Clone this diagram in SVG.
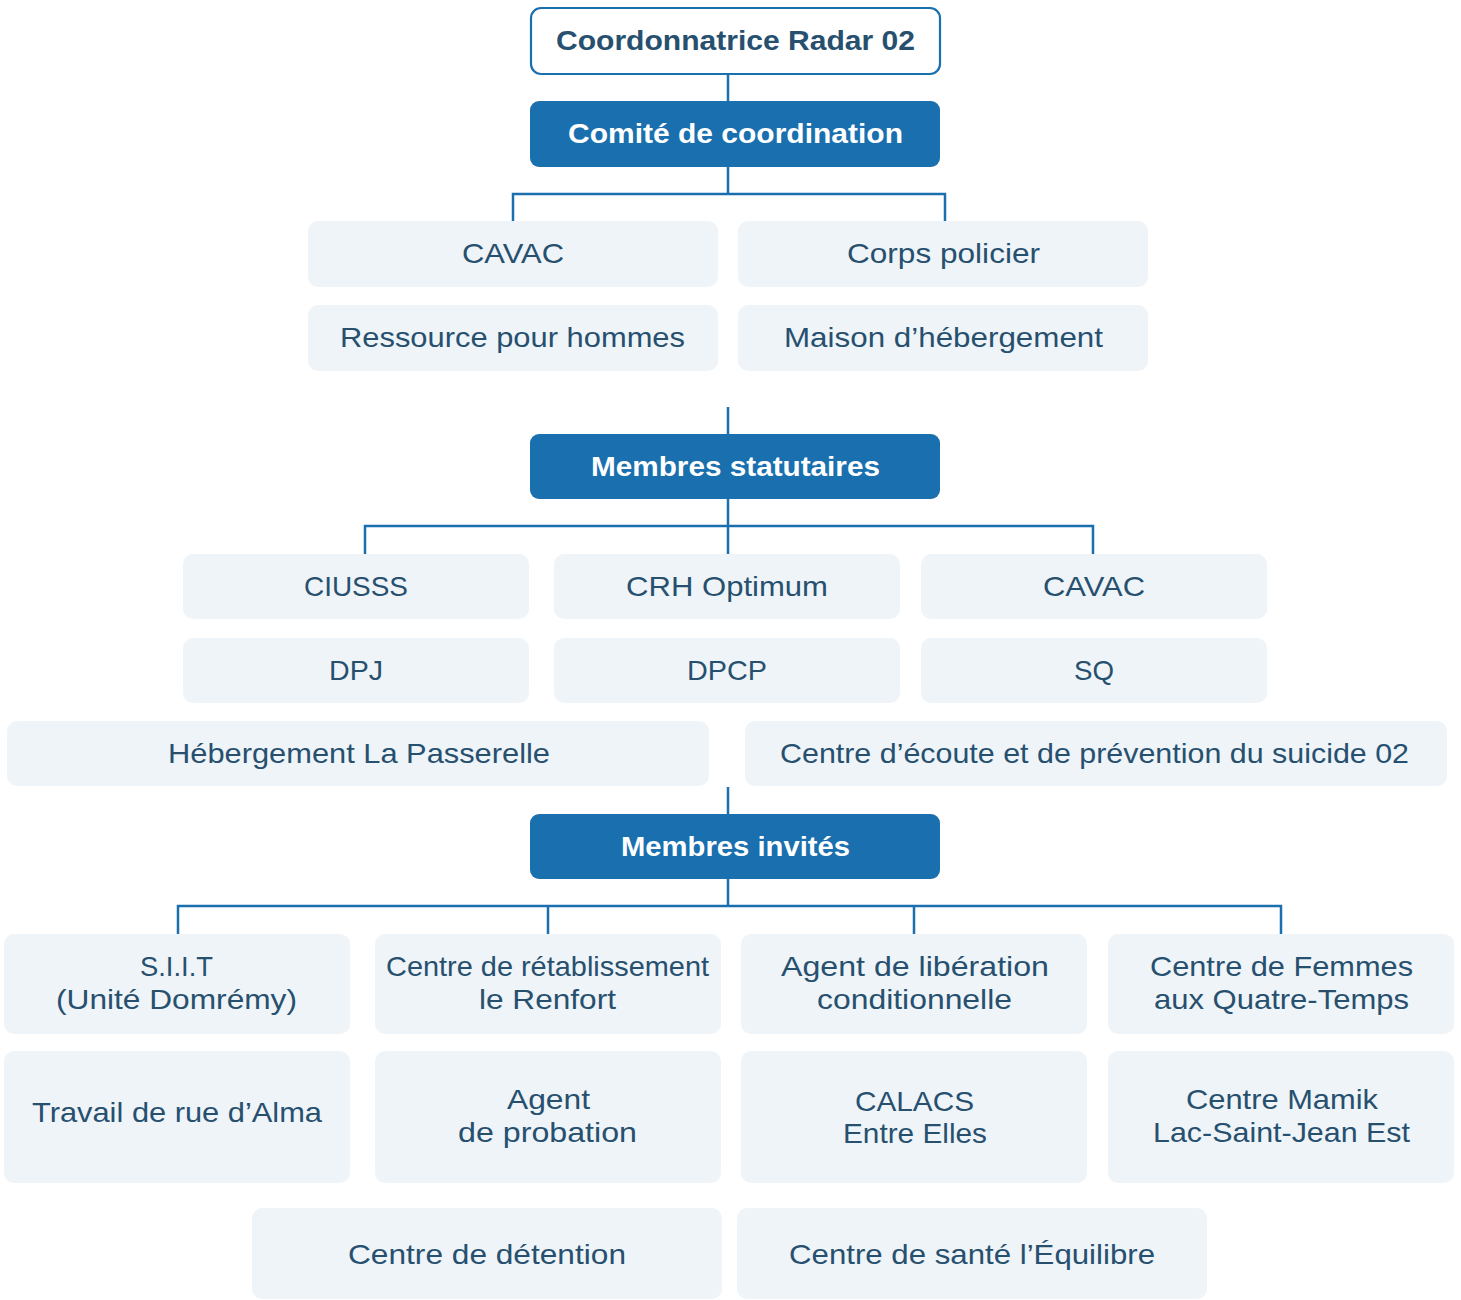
<svg xmlns="http://www.w3.org/2000/svg" width="1461" height="1300" viewBox="0 0 1461 1300">
<style>
.bx{fill:#eff4f9}
.hd{fill:#1a6faf}
.top{fill:#ffffff;stroke:#1a6faf;stroke-width:2.2}
.t{font-family:"Liberation Sans",Arial,sans-serif;font-size:28px;fill:#27506f;text-anchor:middle}
.b{font-family:"Liberation Sans",Arial,sans-serif;font-size:28px;font-weight:bold;text-anchor:middle}
.bw{fill:#ffffff}
.bd{fill:#27506f}
.c{fill:none;stroke:#1a6faf;stroke-width:2.5}
</style>
<rect width="1461" height="1300" fill="#ffffff"/>
<g id="connectors">
<path class="c" d="M728,75V101M728,167V194M513,222V194H945V222"/>
<path class="c" d="M728,407V434M728,499V526M365,554V526H1093V554M728,526V554"/>
<path class="c" d="M728,787V814M728,879V906M178,934V906H1281V934M548,906V934M914,906V934"/>
</g>
<g id="n-coord"><rect class="top" x="531" y="8" width="409" height="66" rx="10"/><text class="b bd" x="735.5" y="50" textLength="359" lengthAdjust="spacingAndGlyphs">Coordonnatrice Radar 02</text></g>
<g id="n-comite"><rect class="hd" x="530" y="101" width="410" height="66" rx="9"/><text class="b bw" x="735.5" y="143" textLength="335" lengthAdjust="spacingAndGlyphs">Comité de coordination</text></g>
<g id="n-cavac1"><rect class="bx" x="308" y="221" width="410" height="66" rx="10"/><text class="t" x="513" y="263" textLength="102" lengthAdjust="spacingAndGlyphs">CAVAC</text></g>
<g id="n-corps"><rect class="bx" x="738" y="221" width="410" height="66" rx="10"/><text class="t" x="943.5" y="263" textLength="193" lengthAdjust="spacingAndGlyphs">Corps policier</text></g>
<g id="n-ressource"><rect class="bx" x="308" y="305" width="410" height="66" rx="10"/><text class="t" x="512.5" y="347" textLength="345" lengthAdjust="spacingAndGlyphs">Ressource pour hommes</text></g>
<g id="n-maison"><rect class="bx" x="738" y="305" width="410" height="66" rx="10"/><text class="t" x="943.5" y="347" textLength="319" lengthAdjust="spacingAndGlyphs">Maison d’hébergement</text></g>
<g id="n-statutaires"><rect class="hd" x="530" y="434" width="410" height="65" rx="9"/><text class="b bw" x="735.5" y="476" textLength="289" lengthAdjust="spacingAndGlyphs">Membres statutaires</text></g>
<g id="n-ciusss"><rect class="bx" x="183" y="554" width="346" height="65" rx="10"/><text class="t" x="356" y="596" textLength="104" lengthAdjust="spacingAndGlyphs">CIUSSS</text></g>
<g id="n-crh"><rect class="bx" x="554" y="554" width="346" height="65" rx="10"/><text class="t" x="727" y="596" textLength="202" lengthAdjust="spacingAndGlyphs">CRH Optimum</text></g>
<g id="n-cavac2"><rect class="bx" x="921" y="554" width="346" height="65" rx="10"/><text class="t" x="1094" y="596" textLength="102" lengthAdjust="spacingAndGlyphs">CAVAC</text></g>
<g id="n-dpj"><rect class="bx" x="183" y="638" width="346" height="65" rx="10"/><text class="t" x="356" y="680" textLength="54" lengthAdjust="spacingAndGlyphs">DPJ</text></g>
<g id="n-dpcp"><rect class="bx" x="554" y="638" width="346" height="65" rx="10"/><text class="t" x="727" y="680" textLength="80" lengthAdjust="spacingAndGlyphs">DPCP</text></g>
<g id="n-sq"><rect class="bx" x="921" y="638" width="346" height="65" rx="10"/><text class="t" x="1094" y="680" textLength="40" lengthAdjust="spacingAndGlyphs">SQ</text></g>
<g id="n-passerelle"><rect class="bx" x="7" y="721" width="702" height="65" rx="10"/><text class="t" x="359" y="763" textLength="382" lengthAdjust="spacingAndGlyphs">Hébergement La Passerelle</text></g>
<g id="n-ecoute"><rect class="bx" x="745" y="721" width="702" height="65" rx="10"/><text class="t" x="1094.5" y="763" textLength="629" lengthAdjust="spacingAndGlyphs">Centre d’écoute et de prévention du suicide 02</text></g>
<g id="n-invites"><rect class="hd" x="530" y="814" width="410" height="65" rx="9"/><text class="b bw" x="735.5" y="856" textLength="229" lengthAdjust="spacingAndGlyphs">Membres invités</text></g>
<g id="n-siit"><rect class="bx" x="4" y="934" width="346" height="100" rx="10"/><text class="t" x="176.5" y="976" textLength="73" lengthAdjust="spacingAndGlyphs">S.I.I.T</text><text class="t" x="176.5" y="1009" textLength="241" lengthAdjust="spacingAndGlyphs">(Unité Domrémy)</text></g>
<g id="n-renfort"><rect class="bx" x="375" y="934" width="346" height="100" rx="10"/><text class="t" x="547.5" y="976" textLength="323" lengthAdjust="spacingAndGlyphs">Centre de rétablissement</text><text class="t" x="547.5" y="1009" textLength="137" lengthAdjust="spacingAndGlyphs">le Renfort</text></g>
<g id="n-liberation"><rect class="bx" x="741" y="934" width="346" height="100" rx="10"/><text class="t" x="915" y="976" textLength="268" lengthAdjust="spacingAndGlyphs">Agent de libération</text><text class="t" x="914.5" y="1009" textLength="195" lengthAdjust="spacingAndGlyphs">conditionnelle</text></g>
<g id="n-femmes"><rect class="bx" x="1108" y="934" width="346" height="100" rx="10"/><text class="t" x="1281.5" y="976" textLength="263" lengthAdjust="spacingAndGlyphs">Centre de Femmes</text><text class="t" x="1281.5" y="1009" textLength="255" lengthAdjust="spacingAndGlyphs">aux Quatre-Temps</text></g>
<g id="n-alma"><rect class="bx" x="4" y="1051" width="346" height="132" rx="10"/><text class="t" x="177" y="1122" textLength="290" lengthAdjust="spacingAndGlyphs">Travail de rue d’Alma</text></g>
<g id="n-probation"><rect class="bx" x="375" y="1051" width="346" height="132" rx="10"/><text class="t" x="548.5" y="1109" textLength="83" lengthAdjust="spacingAndGlyphs">Agent</text><text class="t" x="547.5" y="1142" textLength="179" lengthAdjust="spacingAndGlyphs">de probation</text></g>
<g id="n-calacs"><rect class="bx" x="741" y="1051" width="346" height="132" rx="10"/><text class="t" x="914.5" y="1111" textLength="119" lengthAdjust="spacingAndGlyphs">CALACS</text><text class="t" x="915" y="1143" textLength="144" lengthAdjust="spacingAndGlyphs">Entre Elles</text></g>
<g id="n-mamik"><rect class="bx" x="1108" y="1051" width="346" height="132" rx="10"/><text class="t" x="1282" y="1109" textLength="192" lengthAdjust="spacingAndGlyphs">Centre Mamik</text><text class="t" x="1281.5" y="1142" textLength="257" lengthAdjust="spacingAndGlyphs">Lac-Saint-Jean Est</text></g>
<g id="n-detention"><rect class="bx" x="252" y="1208" width="470" height="91" rx="10"/><text class="t" x="487" y="1264" textLength="278" lengthAdjust="spacingAndGlyphs">Centre de détention</text></g>
<g id="n-equilibre"><rect class="bx" x="737" y="1208" width="470" height="91" rx="10"/><text class="t" x="972" y="1264" textLength="366" lengthAdjust="spacingAndGlyphs">Centre de santé l’Équilibre</text></g>
</svg>
